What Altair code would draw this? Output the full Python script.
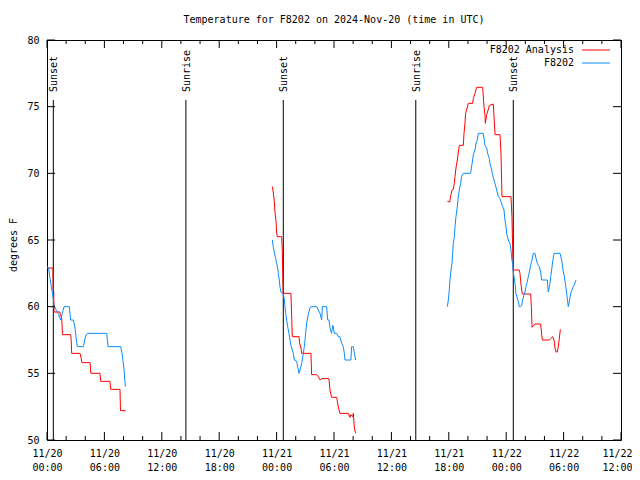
import json
import altair as alt
import pandas as pd

TITLE = "Temperature for F8202 on 2024-Nov-20 (time in UTC)"
Y_TITLE = "degrees F"
FONT = "DejaVu Sans Mono"

analysis_name = "F8202 Analysis"
obs_name = "F8202"
analysis_color = "#ff0000"
obs_color = "#0a8cff"

# hours since 2024-11-20 00:00 UTC
analysis_h1 = [0.00, 0.62, 0.64, 0.70, 0.74, 1.36, 1.40, 1.50, 1.55, 1.62, 2.47, 2.52, 2.58, 3.45, 3.55,
               3.65, 4.50, 4.58, 5.54, 5.62, 6.58, 6.66, 7.63, 7.68, 8.22]
analysis_t1 = [62.9, 62.9, 61.2, 61.2, 59.6, 59.6, 59.3, 59.3, 59.0, 57.9, 57.9, 57.6, 56.5, 56.5, 56.2,
               55.8, 55.8, 55.0, 55.0, 54.4, 54.4, 53.8, 53.8, 52.2, 52.2]

analysis_h2 = [23.55, 23.65, 23.76, 23.83, 23.94, 24.00, 24.07, 24.53, 24.60, 24.68, 25.50, 25.57, 25.64,
               26.34, 26.41, 26.55, 26.62, 27.59, 27.66, 28.19, 28.36, 28.54, 28.71, 29.47, 29.58, 29.75,
               30.28, 30.38, 30.52, 30.62, 31.50, 31.67, 31.77, 31.95, 32.02, 32.13, 32.27]
analysis_t2 = [69.0, 68.6, 67.9, 67.1, 66.4, 65.6, 65.25, 65.25, 64.1, 61.0, 61.0, 59.4, 57.75,
               57.75, 57.25, 56.9, 56.5, 56.5, 54.9, 54.9, 54.75, 54.5, 54.6, 54.6, 53.75, 53.2,
               53.2, 52.75, 52.25, 52.0, 52.0, 51.7, 51.9, 51.75, 52.0, 50.9, 50.5]

analysis_h3 = [41.85, 42.10, 42.12, 42.23, 42.33, 42.47, 42.58, 42.65, 42.75, 42.89, 43.03, 43.10, 43.52,
               43.59, 43.69, 43.76, 44.04, 44.49, 44.56, 44.74, 44.91, 45.54, 45.68, 45.78, 45.82, 45.96,
               46.13, 46.24, 46.65, 46.76, 46.83, 47.35, 47.45, 47.56, 48.50, 48.60, 48.67, 48.74, 49.37,
               49.44, 49.51, 49.62, 49.69, 50.56, 50.63, 50.70, 50.83, 51.01, 51.60, 51.71, 51.78, 52.51,
               52.65, 52.86, 53.00, 53.10, 53.20, 53.34, 53.45, 53.55, 53.66]
analysis_t3 = [67.9, 67.85, 68.0, 68.4, 68.75, 68.8, 69.25, 69.75, 70.4, 71.0, 71.75, 72.1, 72.1,
               73.0, 73.75, 74.5, 75.25, 75.25, 75.6, 76.0, 76.45, 76.45, 75.0, 74.4, 73.75, 74.4,
               74.8, 75.1, 75.2, 73.9, 72.9, 72.9, 71.6, 68.25, 68.25, 66.75, 64.5, 62.75, 62.75,
               62.5, 61.9, 61.25, 60.95, 60.95, 60.0, 58.45, 58.55, 58.7, 58.7, 57.9, 57.5, 57.5,
               57.6, 57.75, 57.5, 56.9, 56.6, 56.6, 57.0, 57.6, 58.3]

obs_h1 = [0.00, 0.17, 0.30, 0.45, 0.66, 0.73, 1.00, 1.20, 1.43, 1.60, 1.78, 2.33, 2.47, 2.75, 2.93,
          3.07, 3.17, 3.80, 4.04, 4.22, 6.24, 6.38, 7.70, 7.87, 8.05, 8.19]
obs_t1 = [63.0, 62.9, 62.2, 61.5, 60.6, 60.1, 59.7, 59.4, 59.0, 59.5, 60.0, 60.0, 59.0, 59.0, 58.4,
          57.5, 57.0, 57.0, 57.8, 58.0, 58.0, 57.0, 57.0, 56.4, 55.3, 54.0]

obs_h2 = [23.55, 23.65, 23.76, 23.90, 24.00, 24.11, 24.18, 24.28, 24.35, 24.46, 24.60, 24.70, 24.81,
          24.88, 24.95, 25.05, 25.16, 25.29, 25.40, 25.50, 25.64, 25.75, 25.85, 26.10, 26.20, 26.34,
          26.45, 26.62, 26.79, 26.90, 27.04, 27.14, 27.31, 27.49, 27.59, 28.19, 28.36, 28.54, 28.71,
          28.78, 29.23, 29.34, 29.48, 29.58, 29.75, 29.86, 29.93, 30.03, 30.28, 30.45, 30.62, 30.80,
          30.97, 31.08, 31.15, 31.77, 31.84, 32.02, 32.13, 32.27]
obs_t2 = [65.0, 64.5, 64.1, 63.6, 63.25, 62.9, 62.5, 62.0, 61.5, 61.1, 61.0, 60.9, 60.5,
          60.0, 59.5, 59.0, 58.5, 58.0, 57.5, 57.1, 56.75, 56.5, 56.0, 55.9, 55.5, 55.0,
          55.25, 55.75, 56.5, 57.0, 58.0, 58.75, 59.4, 59.9, 60.0, 60.0, 59.75, 59.5, 59.0,
          60.0, 60.0, 59.0, 59.0, 58.4, 58.0, 58.6, 58.5, 58.0, 58.0, 57.75, 57.75, 57.25,
          57.0, 56.5, 56.0, 56.0, 57.0, 57.0, 56.5, 56.0]

obs_h3 = [41.85, 41.95, 42.05, 42.12, 42.23, 42.33, 42.40, 42.47, 42.58, 42.65, 42.75, 42.89, 42.99,
          43.10, 43.24, 43.34, 43.52, 44.28, 44.38, 44.49, 44.56, 44.74, 44.84, 44.98, 45.09, 45.60,
          45.71, 45.78, 45.96, 46.06, 46.24, 46.30, 46.48, 46.58, 46.72, 46.83, 47.00, 47.18, 47.35,
          47.45, 47.63, 47.77, 47.87, 47.98, 48.04, 48.22, 48.39, 48.50, 48.60, 48.67, 48.74, 48.92,
          49.02, 49.16, 49.27, 49.37, 49.51, 49.62, 49.72, 49.86, 49.96, 50.07, 50.21, 50.31, 50.42,
          50.56, 50.66, 50.84, 51.01, 51.12, 51.26, 51.36, 51.46, 51.60, 51.71, 52.30, 52.40, 52.51,
          52.58, 52.65, 52.75, 52.86, 53.00, 53.62, 53.80, 53.97, 54.08, 54.18, 54.32, 54.42, 54.49,
          54.60, 54.74, 54.95, 55.09, 55.30]
obs_t3 = [60.0, 60.5, 61.25, 62.0, 62.75, 63.25, 64.0, 64.75, 65.25, 66.0, 66.75, 67.5, 68.25,
          68.75, 69.25, 69.75, 70.0, 70.0, 70.5, 71.0, 71.4, 71.75, 72.25, 72.5, 73.0, 73.0,
          72.5, 72.1, 71.9, 71.5, 71.1, 70.75, 70.25, 69.9, 69.5, 69.25, 68.75, 68.25, 68.1,
          67.9, 67.5, 67.25, 66.5, 66.0, 65.5, 65.0, 64.75, 64.25, 63.5, 63.25, 62.6, 61.75,
          61.0, 60.6, 60.4, 60.0, 60.0, 60.1, 60.5, 60.9, 61.1, 61.5, 61.9, 62.25, 62.6,
          63.1, 63.4, 64.0, 64.0, 63.6, 63.25, 63.1, 63.0, 62.6, 62.0, 62.0, 61.1, 61.5,
          61.75, 62.25, 62.75, 63.4, 64.0, 64.0, 63.5, 62.6, 62.25, 61.75, 61.0, 60.4, 60.0,
          60.4, 61.0, 61.4, 61.6, 62.0]

event_names = ["Sunset", "Sunrise", "Sunset", "Sunrise", "Sunset"]
event_hours = [0.66, 14.52, 24.70, 38.55, 48.74]

x_tick_values = [0, 6, 12, 18, 24, 30, 36, 42, 48, 54, 60]
x_tick_dates = ["11/20", "11/20", "11/20", "11/20", "11/21", "11/21", "11/21", "11/21", "11/22", "11/22", "11/22"]
x_tick_times = ["00:00", "06:00", "12:00", "18:00", "00:00", "06:00", "12:00", "18:00", "00:00", "06:00", "12:00"]
x_minor_values = [2, 4, 8, 10, 14, 16, 20, 22, 26, 28, 32, 34, 38, 40, 44, 46, 50, 52, 56, 58]
y_tick_values = [50, 55, 60, 65, 70, 75, 80]


def seg_frame(hours, temps, seg, series):
    return pd.DataFrame({"hours": hours, "temp": temps, "seg": seg, "series": series})


analysis_df = pd.concat([
    seg_frame(analysis_h1, analysis_t1, "a1", analysis_name),
    seg_frame(analysis_h2, analysis_t2, "a2", analysis_name),
    seg_frame(analysis_h3, analysis_t3, "a3", analysis_name),
])
obs_df = pd.concat([
    seg_frame(obs_h1, obs_t1, "o1", obs_name),
    seg_frame(obs_h2, obs_t2, "o2", obs_name),
    seg_frame(obs_h3, obs_t3, "o3", obs_name),
])
events_df = pd.DataFrame({"hours": event_hours, "name": event_names})
xmajor_df = pd.DataFrame({"hours": x_tick_values})
xminor_df = pd.DataFrame({"hours": x_minor_values})
yticks_df = pd.DataFrame({"temp": y_tick_values})
one_df = pd.DataFrame({"k": [0]})

W, H = 574, 400
MAJ, MIN = 8, 4

label_expr = (f"[{json.dumps(x_tick_dates)}[round(datum.value / 6)], "
              f"{json.dumps(x_tick_times)}[round(datum.value / 6)]]")

X = alt.X("hours:Q",
          scale=alt.Scale(domain=[0, 60], nice=False, zero=False),
          axis=alt.Axis(values=x_tick_values, labelExpr=label_expr, title=None, grid=False,
                        domain=False, ticks=False, tickSize=0, labelPadding=8, labelLineHeight=14,
                        labelFlush=False, labelOverlap=False, labelBound=False,
                        labelAlign="center", labelBaseline="top",
                        labelOffset={"condition": {"test": "datum.value >= 60", "value": -4},
                                     "value": 0}))
Y = alt.Y("temp:Q",
          scale=alt.Scale(domain=[50, 80], nice=False, zero=False),
          axis=alt.Axis(values=y_tick_values, title=None, grid=False, domain=False, ticks=False,
                        tickSize=0, labelPadding=8, labelFlush=False, labelOverlap=False))

color = alt.Color("series:N", scale=alt.Scale(domain=[analysis_name, obs_name],
                                              range=[analysis_color, obs_color]), legend=None)

analysis_line = alt.Chart(analysis_df).mark_line(strokeWidth=1).encode(x=X, y=Y, color=color, detail="seg:N")
obs_line = alt.Chart(obs_df).mark_line(strokeWidth=1).encode(x=X, y=Y, color=color, detail="seg:N")

event_rules = alt.Chart(events_df).mark_rule(color="black", strokeWidth=1).encode(
    x=X, y=alt.value(60), y2=alt.value(H))
event_text = alt.Chart(events_df).mark_text(angle=270, align="left", baseline="middle", font=FONT,
                                            fontSize=10, color="black", dy=1).encode(
    x=X, y=alt.value(52), text="name:N")

tick_layers = [
    alt.Chart(xmajor_df).mark_rule(color="black").encode(x=X, y=alt.value(H), y2=alt.value(H - MAJ)),
    alt.Chart(xmajor_df).mark_rule(color="black").encode(x=X, y=alt.value(0), y2=alt.value(MAJ)),
    alt.Chart(xminor_df).mark_rule(color="black").encode(x=X, y=alt.value(H), y2=alt.value(H - MIN)),
    alt.Chart(xminor_df).mark_rule(color="black").encode(x=X, y=alt.value(0), y2=alt.value(MIN)),
    alt.Chart(yticks_df).mark_rule(color="black").encode(y=Y, x=alt.value(0), x2=alt.value(MAJ)),
    alt.Chart(yticks_df).mark_rule(color="black").encode(y=Y, x=alt.value(W), x2=alt.value(W - MAJ)),
]

legend_layers = []
for i, (name, col) in enumerate([(analysis_name, analysis_color), (obs_name, obs_color)]):
    ypos = 10 + 13 * i
    legend_layers.append(alt.Chart(one_df).mark_text(align="right", baseline="middle", font=FONT,
                                                     fontSize=10, color="black").encode(
        x=alt.value(527), y=alt.value(ypos), text=alt.value(name)))
    legend_layers.append(alt.Chart(one_df).mark_rule(color=col, strokeWidth=1).encode(
        x=alt.value(535), x2=alt.value(563), y=alt.value(ypos)))

title_text = alt.Chart(one_df).mark_text(align="center", baseline="middle", font=FONT, fontSize=10,
                                         color="black").encode(
    x=alt.value(W / 2), y=alt.value(-20), text=alt.value(TITLE))
ytitle_text = alt.Chart(one_df).mark_text(align="center", baseline="middle", font=FONT, fontSize=10,
                                          angle=270, color="black").encode(
    x=alt.value(-33), y=alt.value(205), text=alt.value(Y_TITLE))

chart = alt.layer(
    event_rules, event_text, analysis_line, obs_line, *tick_layers, *legend_layers, title_text, ytitle_text
).properties(
    width=W, height=H,
    autosize=alt.AutoSizeParams(type="none"),
    padding={"left": 39, "top": 32, "right": 11, "bottom": 32},
    background="white",
).configure_view(
    stroke="black", strokeWidth=1
).configure_axis(
    labelFont=FONT, labelFontSize=10, labelColor="black"
)

chart.save("out.html", embed_options={"renderer": "svg", "actions": False})
